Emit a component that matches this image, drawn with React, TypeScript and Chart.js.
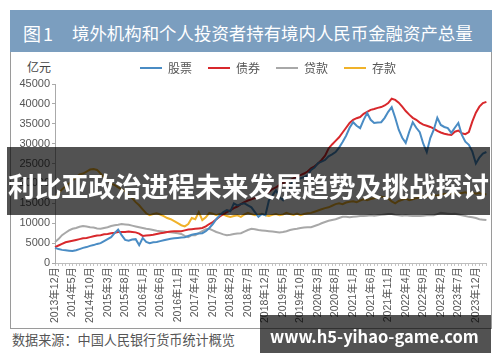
import React, { useEffect, useLayoutEffect, useRef } from 'react';
import { Chart, registerables } from 'chart.js';

Chart.register(...registerables);

const START_YEAR = 2013;
const START_MONTH = 12;
const MONTH_COUNT = 124;

const MONTHS: string[] = Array.from({ length: MONTH_COUNT }, (_, i) => {
  const m = START_MONTH - 1 + i;
  return `${START_YEAR + Math.floor(m / 12)}年${(m % 12) + 1}月`;
});

const TICK_LABELS = [
  '2013年12月', '2014年5月', '2014年10月', '2015年3月', '2015年8月', '2016年1月', '2016年6月',
  '2016年11月', '2017年4月', '2017年9月', '2018年2月', '2018年7月', '2018年12月', '2019年5月',
  '2019年10月', '2020年3月', '2020年8月', '2021年1月', '2021年6月', '2021年11月', '2022年4月',
  '2022年9月', '2023年2月', '2023年7月', '2023年12月',
];

const SERIES_NAMES = ['股票', '债券', '贷款', '存款'];

const STOCKS = [
  3800, 3500, 3300, 3200, 3100, 3000, 3200, 3500, 3800, 4000,
  4300, 4500, 4800, 5000, 5500, 6000, 6500, 7500, 8400, 7000,
  5800, 5600, 5900, 6000, 4500, 6300, 5300, 5000, 5200, 5300,
  5500, 5700, 5900, 6100, 6200, 6300, 6400, 6500, 6800, 7100,
  7300, 7400, 7500, 8000, 8800, 9800, 11000, 12000, 12800, 13300,
  13000, 15000, 14500, 14800, 15000, 14500, 14000, 12800, 11600, 12300,
  12000, 15800, 17000, 18300, 16500, 15800, 17800, 19500, 20900, 21000,
  21300, 21600, 22000, 23400, 24000, 25100, 25500, 25900, 26800, 27300,
  27900, 29000, 30400, 32000, 34000, 35400, 34500, 33900, 36000, 37700,
  36000, 35200, 35300, 35400, 36500, 38000, 39200, 36500, 33500, 31500,
  30200, 33000, 35400, 34000, 32900, 30000, 27900, 31400, 33500, 36500,
  34700, 34200, 33900, 32700, 34000, 35200, 32200, 30500, 29700, 28000,
  25000, 26500, 27500, 27900,
];

const BONDS = [
  4000, 4400, 4800, 5200, 5400, 5600, 5800, 6000, 6200, 6300,
  6500, 6700, 6900, 7000, 7200, 7300, 7500, 7600, 7800, 7800,
  7800, 7900, 7800, 7700, 7400, 6800, 6900, 7000, 7100, 7300,
  7500, 7600, 7800, 7900, 8000, 8000, 8000, 8200, 8400, 8500,
  8600, 8700, 8800, 9200, 9800, 10300, 11000, 11700, 12300, 12800,
  13200, 13800, 14200, 14800, 15300, 15700, 16000, 16300, 16600, 17000,
  17400, 17900, 18600, 19000, 19600, 20100, 20400, 20800, 21300, 21800,
  22100, 22500, 23000, 23800, 24300, 25000, 25900, 27000, 28800, 29800,
  30700, 31600, 32800, 34000, 35200, 36000, 36400, 36700, 37500, 38000,
  38500, 38700, 39000, 39200, 39600, 40200, 41300, 41000, 40300, 39300,
  38200, 37300, 36500, 36000, 35300, 34800, 34500, 34200, 33800, 33200,
  32800, 32500, 32300, 32200, 33000, 33300, 32600, 32400, 32900, 35600,
  37800, 39300, 40200, 40500,
];

const LOANS = [
  5300, 6000, 7000, 7600, 8200, 8600, 8800, 9100, 9300, 9200,
  9000, 8900, 8700, 8600, 8800, 9000, 9300, 9500, 9600, 9800,
  9700, 9600, 9400, 9200, 9000, 8800, 8600, 8500, 8300, 8100,
  8000, 7900, 7800, 7700, 7600, 7500, 7300, 6800, 6500, 7000,
  7000, 7500, 8000, 8500, 8600, 8200, 7800, 7500, 7200, 7000,
  7100, 7300, 7400, 7500, 7900, 8300, 8600, 8500, 8300, 8200,
  8100, 8000, 7900, 7800, 7700, 7800, 8000, 8300, 8500, 8600,
  8800, 8900, 9000, 9000, 9300, 9600, 10000, 10300, 10600, 10800,
  11000, 11300, 11600, 11600, 11500, 11600, 11700, 11800, 11800, 11900,
  12000, 11900, 12000, 12100, 12200, 12300, 12300, 12100, 12000, 11900,
  12000, 11900, 11800, 11800, 11800, 11900, 12000, 12000, 12000, 12300,
  12600, 12500, 12400, 12300, 12400, 12200, 12000, 11800, 11600, 11500,
  11300, 11000, 10900, 10800,
];

const DEPOSITS = [
  16500, 17500, 18500, 19300, 20000, 20800, 21500, 22300, 22500, 23000,
  23500, 23600, 23400, 22500, 21500, 20800, 20000, 19600, 19000, 18500,
  18000, 17000, 16300, 15300, 14500, 13500, 12500, 12000, 12300, 12500,
  12200, 11800, 11300, 11000, 10500, 10000, 9500, 9200, 9800, 11300,
  11000, 12800, 10800, 11500, 12600, 12400, 12000, 12400, 12200, 11800,
  11600, 11800, 12000, 11600, 12200, 12600, 12300, 12000, 12200, 12400,
  12000, 11800, 12100, 12300, 12000, 12200, 12600, 12300, 12100, 12400,
  12000, 12300, 12500, 12600, 12900, 13200, 13500, 13800, 14000, 14400,
  14800, 15000, 14800, 15200, 15400, 15500, 15300, 15700, 16000, 15800,
  16100, 16300, 16500, 16700, 16500, 16300, 15500, 15000, 15600, 15900,
  16200, 15800, 16000, 16300, 16500, 16800, 16600, 16900, 17100, 16900,
  17200, 17400, 17200, 17500, 17700, 17400, 17600, 17800, 17500, 17700,
  17400, 17600, 17300, 17300,
];

const Y_MIN = 0;
const Y_MAX = 45000;
const Y_STEP = 5000;

const COLORS = ['#4a8cc4', '#d8282c', '#a8a8a8', '#f0b22a'];
const SERIES = [STOCKS, BONDS, LOANS, DEPOSITS];

const LATIN = "'Liberation Sans', 'Noto Sans CJK SC', sans-serif";
const CJK = "'Noto Sans CJK SC', sans-serif";

const LEGEND_SHIFT = 17.5;

type FitProps = {
  x: number;
  cy: number;
  width: number;
  size: number;
  weight?: number;
  color: string;
  family: string;
  z?: number;
  text: string;
};

function FitText({ x, cy, width, size, weight = 400, color, family, z = 0, text }: FitProps) {
  const r = useRef<HTMLDivElement | null>(null);
  useLayoutEffect(() => {
    const el = r.current;
    if (!el) return;
    const w = el.getBoundingClientRect().width;
    if (w > 0) {
      const s = (size * width) / w;
      el.style.fontSize = `${s}px`;
      el.style.lineHeight = `${s}px`;
      el.style.top = `${cy - s / 2}px`;
    }
  }, []);
  return (
    <div
      ref={r}
      style={{
        position: 'absolute',
        left: x,
        top: cy - size / 2,
        fontFamily: family,
        fontWeight: weight,
        fontSize: size,
        lineHeight: `${size}px`,
        color,
        whiteSpace: 'nowrap',
        zIndex: z,
      }}
    >
      {text}
    </div>
  );
}

export default function App() {
  const ref = useRef<HTMLCanvasElement | null>(null);

  useEffect(() => {
    if (!ref.current) return;
    const defaultGen = (Chart.defaults as any).plugins.legend.labels.generateLabels;
    const legendShift = {
      id: 'legendShift',
      afterLayout(chart: any) {
        if (chart.legend) {
          chart.legend.left += LEGEND_SHIFT;
          chart.legend.right += LEGEND_SHIFT;
        }
      },
    };
    const chart = new Chart(ref.current, {
      type: 'line',
      data: {
        labels: MONTHS,
        datasets: SERIES.map((data, i) => ({
          label: SERIES_NAMES[i],
          data,
          borderColor: COLORS[i],
          backgroundColor: COLORS[i],
          borderWidth: 2,
          pointRadius: 0,
          tension: 0,
          fill: false,
        })),
      },
      options: {
        animation: false,
        responsive: false,
        layout: { padding: { left: 5, right: 4, top: 46, bottom: 33 } },
        plugins: {
          legend: {
            display: true,
            position: 'top',
            labels: {
              boxWidth: 22,
              boxHeight: 2,
              padding: 16,
              color: '#555',
              font: { size: 12, family: CJK },
              generateLabels: (c: any) =>
                defaultGen(c).map((it: any) => ({ ...it, lineWidth: 0, fillStyle: it.strokeStyle })),
            },
          },
          tooltip: { enabled: false },
        },
        scales: {
          x: {
            type: 'category',
            offset: false,
            grid: { display: true, drawOnChartArea: false, drawTicks: true, tickLength: 3, color: '#c4c4c4' },
            border: { display: true, color: '#bdbdbd' },
            ticks: {
              autoSkip: false,
              minRotation: 90,
              maxRotation: 90,
              padding: 1,
              color: '#555',
              font: { size: 10.5, family: LATIN },
              callback: (_v: any, i: number) => (TICK_LABELS.includes(MONTHS[i]) ? MONTHS[i] : ''),
            },
            afterFit: (s: any) => {
              s.height = 66;
            },
          },
          y: {
            min: Y_MIN,
            max: Y_MAX,
            ticks: {
              stepSize: Y_STEP,
              padding: 2,
              color: '#555',
              font: { size: 11, family: LATIN },
              callback: (v: any) => String(v),
            },
            grid: { display: true, drawOnChartArea: false, drawTicks: true, tickLength: 3, color: '#aaa' },
            border: { display: true, color: '#aaa' },
            afterFit: (s: any) => {
              s.width = 50;
            },
          },
        },
      } as any,
      plugins: [legendShift],
    });
    return () => chart.destroy();
  }, []);

  return (
    <div style={{ position: 'fixed', left: 0, top: 0, width: 500, height: 362, overflow: 'hidden', background: '#fff' }}>
      <div style={{ position: 'absolute', left: 10, top: 10, width: 480, height: 317, border: '1px solid #9a9a9a' }} />
      <div style={{ position: 'absolute', left: 10, top: 10, width: 482, height: 42, background: '#7b9ebf' }} />
      <div style={{ position: 'absolute', left: 23, top: 24, fontFamily: CJK, fontSize: 18, lineHeight: '18px', color: '#fff', whiteSpace: 'nowrap' }}>图</div>
      <div style={{ position: 'absolute', left: 43, top: 24, fontFamily: CJK, fontSize: 18, lineHeight: '18px', color: '#fff', whiteSpace: 'nowrap' }}>1</div>
      <FitText x={72} cy={33} width={401} size={18} color="#fff" family={CJK} text="境外机构和个人投资者持有境内人民币金融资产总量" />
      <div style={{ position: 'absolute', left: 27, top: 61, fontFamily: CJK, fontSize: 12, lineHeight: '12px', color: '#444', whiteSpace: 'nowrap' }}>亿元</div>
      <FitText x={12} cy={340} width={223} size={13} color="#555" family={CJK} text="数据来源：中国人民银行货币统计概览" />
      <canvas ref={ref} width={500} height={362} style={{ position: 'absolute', left: 0, top: 0, zIndex: 1 }} />
      <div style={{ position: 'absolute', left: 7, top: 147, width: 483, height: 68, background: 'rgba(0,0,0,0.68)', zIndex: 2 }} />
      <FitText x={8} cy={186} width={481} size={26.7} weight={700} color="#fff" family={CJK} z={3} text="利比亚政治进程未来发展趋势及挑战探讨" />
      <div style={{ position: 'absolute', left: 260, top: 315, width: 231, height: 38, background: 'rgba(0,0,0,0.68)', zIndex: 2 }} />
      <FitText x={270} cy={336} width={209} size={18} weight={700} color="#fff" family={CJK} z={3} text="www.h5-yihao-game.com" />
    </div>
  );
}
